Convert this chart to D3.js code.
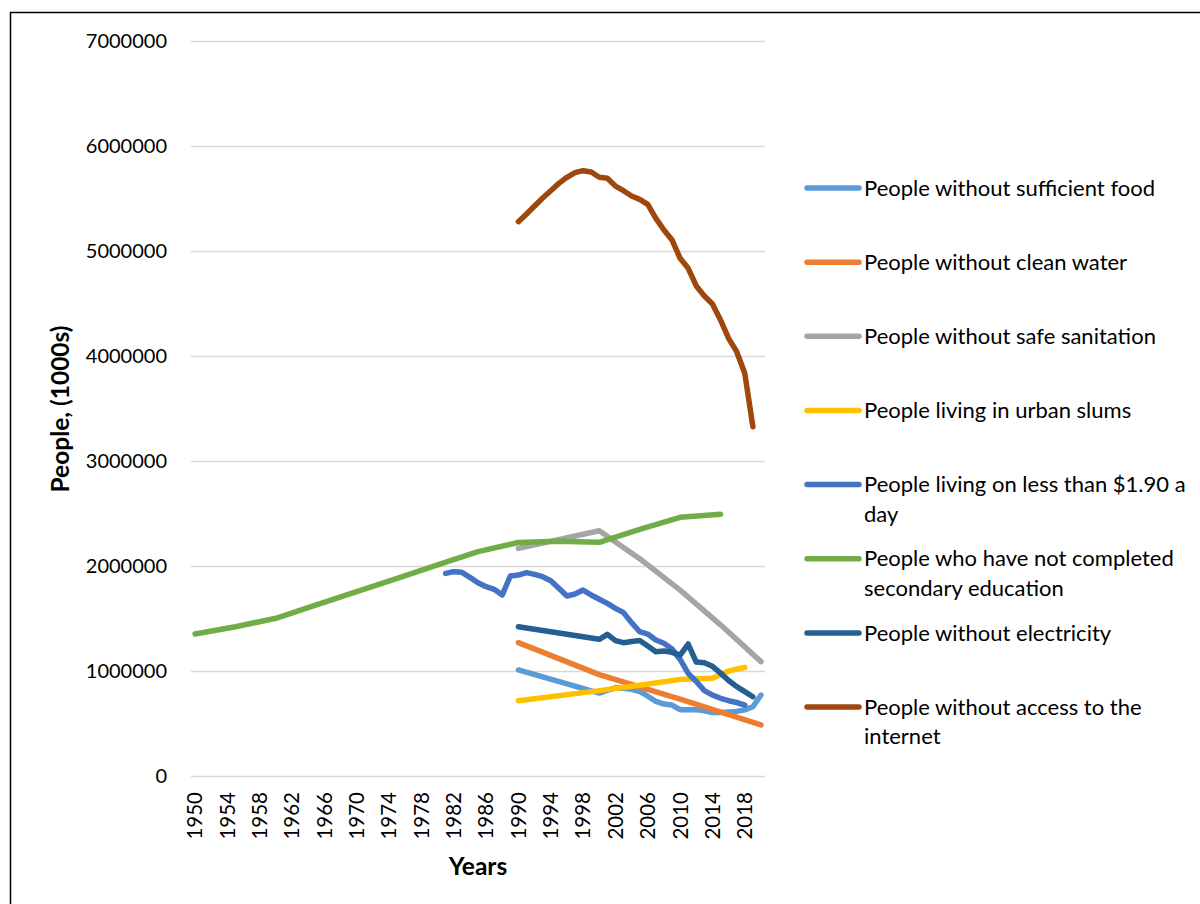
<!DOCTYPE html>
<html>
<head>
<meta charset="utf-8">
<script src="https://cdn.jsdelivr.net/npm/d3@7"></script>
<style>
  html, body { margin: 0; padding: 0; background: #fff; }
  svg { display: block; }
  text { font-family: Lato, "Open Sans", sans-serif; fill: #000; }
</style>
</head>
<body>
<svg id="chart" width="1200" height="904"></svg>
<script>
// Years on the category axis
const years = d3.range(1950, 2021);
const yTicks = [0, 1000000, 2000000, 3000000, 4000000, 5000000, 6000000, 7000000];

// Series values: [year, people (1000s)]
const food = [
  [1990, 1010000], [2000, 790000], [2001, 815000], [2002, 840000], [2003, 835000],
  [2004, 825000], [2005, 805000], [2006, 760000], [2007, 710000], [2008, 685000],
  [2009, 676000], [2010, 632000], [2011, 632000], [2012, 632000], [2013, 620000],
  [2014, 605000], [2015, 605000], [2016, 610000], [2017, 615000], [2018, 630000],
  [2019, 660000], [2020, 771000]
];
const water = [[1990, 1270000], [2000, 965000], [2010, 733000], [2020, 486000]];
const sanitation = [[1990, 2168000], [2000, 2336000], [2005, 2070000], [2010, 1770000], [2015, 1440000], [2020, 1089000]];
const slums = [[1990, 717000], [2000, 813000], [2005, 865000], [2010, 920000], [2014, 930000], [2016, 1000000], [2018, 1035000]];
const poverty = [
  [1981, 1930000], [1982, 1946000], [1983, 1940000], [1984, 1892000], [1985, 1841000],
  [1986, 1803000], [1987, 1778000], [1988, 1724000], [1989, 1905000], [1990, 1914000],
  [1991, 1937000], [1992, 1920000], [1993, 1898000], [1994, 1860000], [1995, 1787000],
  [1996, 1714000], [1997, 1733000], [1998, 1771000], [1999, 1724000], [2000, 1683000],
  [2001, 1644000], [2002, 1597000], [2003, 1556000], [2004, 1460000], [2005, 1374000],
  [2006, 1352000], [2007, 1295000], [2008, 1264000], [2009, 1210000], [2010, 1110000],
  [2011, 978000], [2012, 900000], [2013, 813000], [2014, 771000], [2015, 740000],
  [2016, 717000], [2017, 700000], [2018, 676000]
];
const education = [
  [1950, 1352000], [1955, 1422000], [1960, 1502000], [1965, 1629000], [1970, 1756000],
  [1975, 1882000], [1980, 2010000], [1985, 2137000], [1990, 2224000], [1995, 2235000],
  [2000, 2226000], [2005, 2349000], [2010, 2464000], [2015, 2492000]
];
const electricity = [
  [1990, 1422000], [2000, 1302000], [2001, 1349000], [2002, 1289000], [2003, 1270000],
  [2004, 1280000], [2005, 1290000], [2006, 1238000], [2007, 1184000], [2008, 1190000],
  [2009, 1178000], [2010, 1152000], [2011, 1257000], [2012, 1085000], [2013, 1078000],
  [2014, 1045000], [2015, 980000], [2016, 910000], [2017, 851000], [2018, 803000],
  [2019, 755000]
];
const internet = [
  [1990, 5279000], [1991, 5352000], [1992, 5429000], [1993, 5505000], [1994, 5574000],
  [1995, 5644000], [1996, 5702000], [1997, 5746000], [1998, 5765000], [1999, 5752000],
  [2000, 5702000], [2001, 5692000], [2002, 5619000], [2003, 5574000], [2004, 5524000],
  [2005, 5492000], [2006, 5444000], [2007, 5311000], [2008, 5200000], [2009, 5105000],
  [2010, 4930000], [2011, 4835000], [2012, 4667000], [2013, 4571000], [2014, 4495000],
  [2015, 4343000], [2016, 4168000], [2017, 4041000], [2018, 3835000], [2019, 3327000]
];

const seriesNames = [
  "People without sufficient food",
  "People without clean water",
  "People without safe sanitation",
  "People living in urban slums",
  "People living on less than $1.90 a day",
  "People who have not completed secondary education",
  "People without electricity",
  "People without access to the internet"
];
// legend label line breaks
const legendLines = [
  ["People without sufficient food"],
  ["People without clean water"],
  ["People without safe sanitation"],
  ["People living in urban slums"],
  ["People living on less than $1.90 a", "day"],
  ["People who have not completed", "secondary education"],
  ["People without electricity"],
  ["People without access to the", "internet"]
];
const seriesColors = ["#5B9BD5", "#ED7D31", "#A5A5A5", "#FFC000", "#4472C4", "#70AD47", "#255E91", "#9E480E"];
const seriesData = [food, water, sanitation, slums, poverty, education, electricity, internet];

const svg = d3.select("#chart");

// outer chart frame
svg.append("rect")
  .attr("x", 10.5).attr("y", 12.5)
  .attr("width", 1300).attr("height", 1000)
  .attr("fill", "none").attr("stroke", "#000").attr("stroke-width", 1.5);

const plot = { left: 191, right: 765, top: 41, bottom: 776 };

const x = d3.scaleBand().domain(years).range([plot.left, plot.right]);
const xc = yr => x(yr) + x.bandwidth() / 2;
const y = d3.scaleLinear().domain([0, 7000000]).range([plot.bottom, plot.top]);

// horizontal gridlines
svg.append("g")
  .attr("transform", `translate(${plot.left},0)`)
  .call(d3.axisLeft(y).tickValues(yTicks).tickSize(-(plot.right - plot.left)).tickFormat(""))
  .call(g => g.select(".domain").remove())
  .call(g => g.selectAll("line").attr("stroke", "#d9d9d9").attr("stroke-width", 1.5));

// y axis labels
svg.append("g")
  .attr("transform", `translate(${plot.left},0)`)
  .call(d3.axisLeft(y).tickValues(yTicks).tickSize(0).tickPadding(24).tickFormat(d3.format("d")))
  .call(g => g.select(".domain").remove())
  .call(g => g.selectAll("text").attr("font-size", 20).attr("font-family", "Lato, sans-serif").attr("fill", "#000"));

// x axis labels (every fourth year, rotated)
svg.append("g")
  .attr("transform", `translate(0,${plot.bottom})`)
  .call(d3.axisBottom(x).tickValues(years.filter(v => (v - 1950) % 4 === 0)).tickSize(0).tickPadding(0))
  .call(g => g.select(".domain").remove())
  .call(g => g.selectAll("text")
    .attr("font-size", 20.5).attr("font-family", "Lato, sans-serif").attr("fill", "#000")
    .attr("transform", "rotate(-90)")
    .attr("text-anchor", "end")
    .attr("x", -16).attr("y", 0).attr("dy", "0.36em"));

// axis titles
svg.append("text")
  .attr("transform", `translate(69,409) rotate(-90)`)
  .attr("text-anchor", "middle")
  .attr("font-size", 24.5).attr("font-weight", "bold")
  .text("People, (1000s)");
svg.append("text")
  .attr("x", 478).attr("y", 875)
  .attr("text-anchor", "middle")
  .attr("font-size", 24.5).attr("font-weight", "bold")
  .text("Years");

// series lines
const line = d3.line().x(d => xc(d[0])).y(d => y(d[1]));
const lines = svg.append("g");
seriesData.forEach((data, i) => {
  lines.append("path")
    .datum(data)
    .attr("d", line)
    .attr("fill", "none")
    .attr("stroke", seriesColors[i])
    .attr("stroke-width", 5.5)
    .attr("stroke-linejoin", "round")
    .attr("stroke-linecap", "round");
});

// legend
const legend = svg.append("g");
seriesNames.forEach((name, i) => {
  const cy = 188 + i * 74.15;
  const item = legend.append("g").attr("transform", `translate(0,${cy})`);
  item.append("line")
    .attr("x1", 807).attr("x2", 859).attr("y1", 0).attr("y2", 0)
    .attr("stroke", seriesColors[i]).attr("stroke-width", 5.5).attr("stroke-linecap", "round");
  legendLines[i].forEach((t, j) => {
    item.append("text")
      .attr("x", 864).attr("y", j * 29.5)
      .attr("dy", "0.35em")
      .attr("font-size", 22)
      .text(t);
  });
});
</script>
</body>
</html>
